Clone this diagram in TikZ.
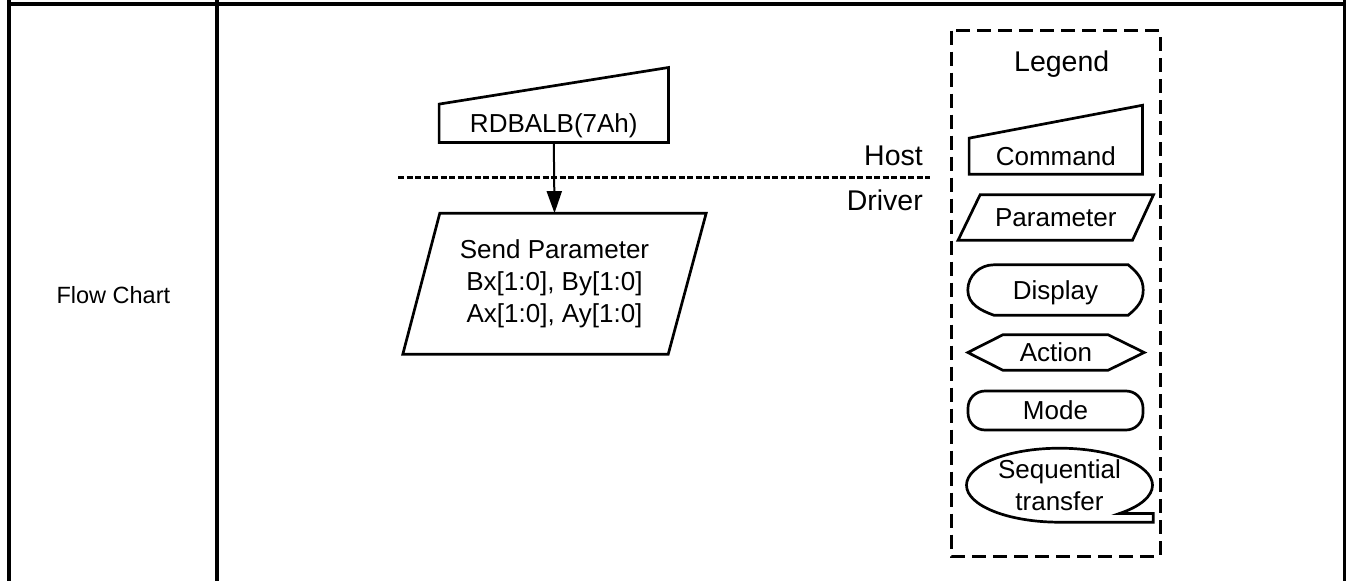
\documentclass[tikz,border=0pt]{standalone}
\usepackage{fontspec}
\setmainfont{Liberation Sans}
\usetikzlibrary{arrows.meta, calc}

\begin{document}
\begin{tikzpicture}[x=1pt, y=1pt, >={Triangle[length=22pt,width=15pt]},
    txt/.style={font=\fontsize{26}{32}\selectfont, inner sep=0pt, align=center},
    oneline/.style={text height=18.6pt, text depth=0pt},
    big/.style={font=\fontsize{28.5}{34}\selectfont, inner sep=0pt},
    outline/.style={line width=2.7pt},
    frame/.style={line width=4pt}]
    \useasboundingbox (0,0) rectangle (1346,-581);
    \draw[frame] (9,-3.5) -- (1346,-3.5);
    \foreach \x in {9,217,1344.5} \draw[frame] (\x,0) -- (\x,-581);
    \node[font=\fontsize{23.5}{28}\selectfont, inner sep=0pt, anchor=base] (flowchart) at (113.4,-303.3) {Flow Chart};

    \node[txt, oneline, minimum width=229pt, minimum height=38pt] (rdbalb) at (553.8,-123.3) {RDBALB(7Ah)};
    \draw[outline] (rdbalb.south west) -- (rdbalb.south east) -- ++(0,75) -- (rdbalb.north west) -- cycle;
    \node[txt, minimum width=303pt, minimum height=140.7pt] (param) at (554.5,-283.7) {Send Parameter\\Bx[1:0], By[1:0]\\Ax[1:0], Ay[1:0]};
    \draw[outline] ($(param.north west)+(37,0)$) -- (param.north east) -- ($(param.south east)+(-38,0)$) -- (param.south west) -- cycle;
    \draw[->, line width=2pt] (rdbalb.south) -- (param.north);

    \coordinate (sepL) at (398,-177.3);
    \coordinate (sepR) at (930,-177.3);
    \draw[line width=3pt, dash pattern=on 6pt off 2.5pt] (sepL) -- (sepR);
    \node[big, anchor=base east] (host) at (923,-165) {Host};
    \node[big, anchor=base east] (driver) at (923,-210) {Driver};

    \draw[line width=3pt, dash pattern=on 14pt off 7pt] (951.7,-30.7) rectangle (1160,-556);
    \node[big, anchor=base] (legend) at (1061.7,-71.7) {Legend};

    \node[txt, oneline, minimum width=173pt, minimum height=35.7pt] (legcmd) at (1055.8,-156.2) {Command};
    \draw[outline] (legcmd.south west) -- (legcmd.south east) -- ++(0,69) -- (legcmd.north west) -- cycle;

    \node[txt, oneline, minimum width=195pt, minimum height=45pt] (legpar) at (1055.8,-217.5) {Parameter};
    \draw[outline] ($(legpar.north west)+(22,0)$) -- (legpar.north east) -- ($(legpar.south east)+(-21,0)$) -- (legpar.south west) -- cycle;

    \node[txt, oneline, minimum width=175pt, minimum height=50pt] (legdisp) at (1055.5,-290) {Display};
    \draw[outline] ($(legdisp.north west)+(26,0)$) -- ($(legdisp.north east)+(-15,0)$) to[out=-40,in=90] (legdisp.east)
        to[out=-90,in=40] ($(legdisp.south east)+(-15,0)$) -- ($(legdisp.south west)+(26,0)$) to[out=160,in=-90] (legdisp.west)
        to[out=90,in=180] ($(legdisp.north west)+(26,0)$);

    \node[txt, oneline, minimum width=176pt, minimum height=35pt] (legact) at (1056,-352.5) {Action};
    \draw[outline] (legact.west) -- ($(legact.north west)+(35,0)$) -- ($(legact.north east)+(-36,0)$) -- (legact.east)
        -- ($(legact.south east)+(-36,0)$) -- ($(legact.south west)+(35,0)$) -- cycle;

    \node[txt, oneline, draw, outline, rounded corners=17pt, minimum width=175pt, minimum height=39pt] (legmode) at (1055.5,-410.5) {Mode};

    \node[txt, minimum width=186pt, minimum height=74pt] (legseq) at (1059.5,-485) {Sequential\\transfer};
    \draw[outline] (legseq.south) arc[start angle=-90, end angle=-410, x radius=93, y radius=37] -- ++(34,0) |- (legseq.south) -- cycle;
\end{tikzpicture}
\end{document}
